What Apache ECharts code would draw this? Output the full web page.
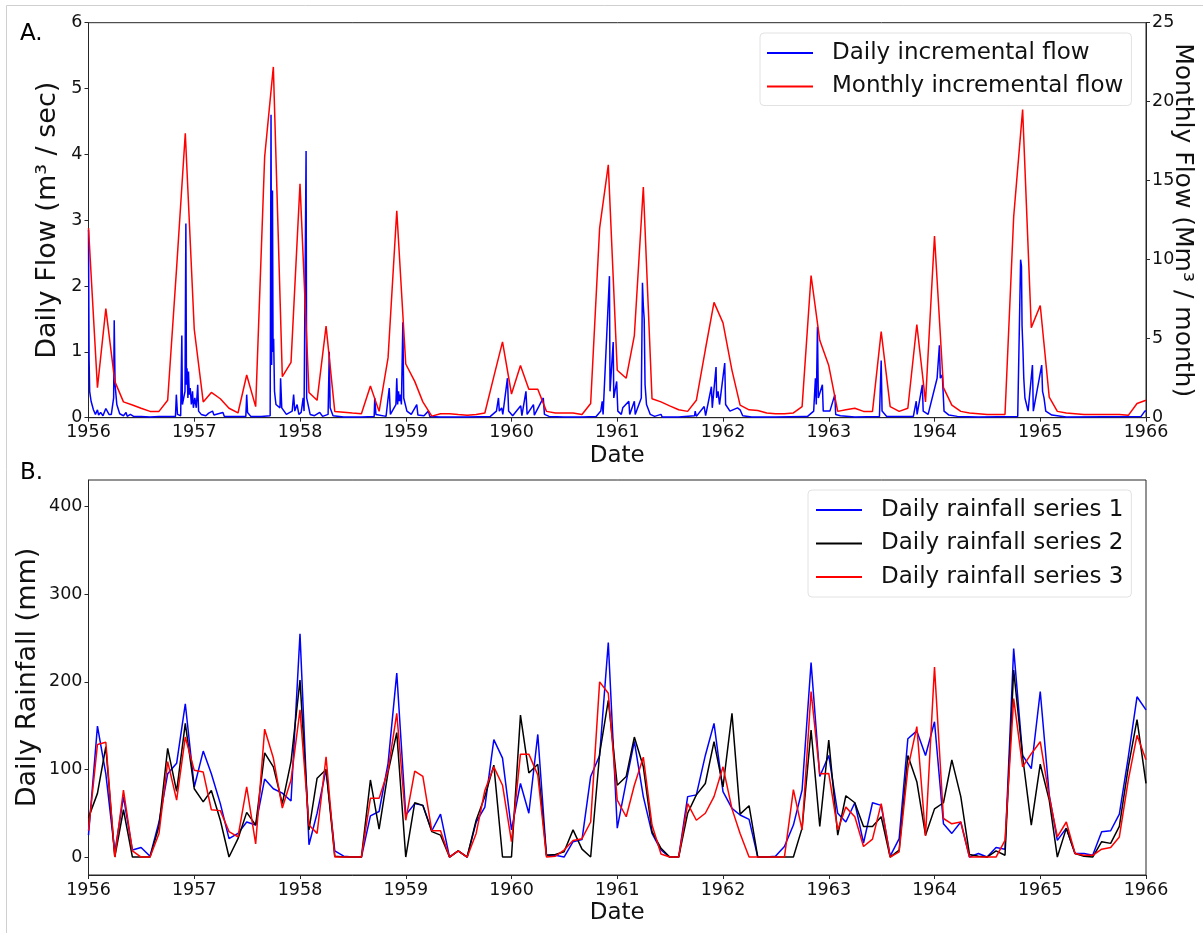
<!DOCTYPE html>
<html><head><meta charset="utf-8">
<script src="https://cdn.jsdelivr.net/npm/echarts@6/dist/echarts.min.js"></script>
<style>html,body{margin:0;padding:0;background:#fff}#c{width:1203px;height:933px}</style>
</head><body><div id="c"></div>
<script>
// ---------- tick labels ----------
const yearTicks = [1956,1957,1958,1959,1960,1961,1962,1963,1964,1965,1966];
const flowTicksLeft = [0,1,2,3,4,5,6];
const flowTicksRight = [0,5,10,15,20,25];
const rainTicks = [0,100,200,300,400];

// ---------- monthly categories (first of each month, Jan 1956 .. Jan 1966) ----------
const monthDates = [];
for (let m = 0; m <= 120; m++) { const d = new Date(1956, m, 1); monthDates.push(d.getFullYear() + '-' + String(d.getMonth() + 1).padStart(2, '0') + '-01'); }

// ---------- Panel A: monthly incremental flow (Mm3 / month) ----------
const monthlyFlow = [12.0,1.9,6.9,2.3,1.0,0.8,0.6,0.4,0.4,1.1,
9.5,18.0,5.6,1.0,1.6,1.2,0.6,0.3,2.7,0.7,
16.5,22.2,2.6,3.5,14.8,1.6,1.1,5.8,0.4,0.35,
0.3,0.25,2.0,0.4,3.8,13.1,3.4,2.3,1.0,0.1,
0.25,0.25,0.2,0.15,0.2,0.3,2.6,4.8,1.5,3.3,
1.8,1.8,0.4,0.3,0.3,0.3,0.2,0.9,12.0,16.0,
3.0,2.5,5.2,14.6,1.2,1.0,0.75,0.5,0.4,1.1,
4.3,7.3,6.0,3.0,0.8,0.5,0.45,0.3,0.25,0.25,
0.3,0.7,9.0,4.9,3.3,0.4,0.5,0.6,0.4,0.4,
5.45,0.7,0.4,0.6,5.9,1.0,11.5,1.9,0.8,0.4,
0.3,0.25,0.2,0.2,0.2,12.7,19.5,5.7,7.1,1.3,
0.4,0.3,0.25,0.2,0.2,0.2,0.2,0.2,0.15,0.9,
1.1];

// ---------- Panel A: daily incremental flow (m3 / sec), read points ----------
const dailyDates = [
'1956-01-01','1956-01-03','1956-01-05','1956-01-10','1956-01-18','1956-01-25','1956-02-01','1956-02-05','1956-02-12','1956-02-20',
'1956-03-01','1956-03-05','1956-03-12','1956-03-20','1956-03-28','1956-03-30','1956-04-02','1956-04-08','1956-04-18','1956-05-01',
'1956-05-10','1956-05-14','1956-05-25','1956-06-05','1956-07-01','1956-08-01','1956-09-01','1956-10-10','1956-10-28','1956-10-31',
'1956-11-04','1956-11-15','1956-11-19','1956-11-21','1956-11-30','1956-12-03','1956-12-05','1956-12-07','1956-12-10','1956-12-12',
'1956-12-15','1956-12-18','1956-12-22','1956-12-26','1956-12-29','1957-01-03','1957-01-08','1957-01-13','1957-01-16','1957-01-25',
'1957-02-10','1957-02-20','1957-03-05','1957-03-10','1957-03-25','1957-04-10','1957-04-15','1957-05-15','1957-06-28','1957-07-01',
'1957-07-04','1957-07-15','1957-08-20','1957-09-20','1957-09-23','1957-09-25','1957-09-28','1957-09-30','1957-10-02','1957-10-05',
'1957-10-10','1957-10-24','1957-10-26','1957-10-30','1957-11-15','1957-12-05','1957-12-10','1957-12-14','1957-12-22','1957-12-28',
'1958-01-05','1958-01-12','1958-01-15','1958-01-22','1958-01-24','1958-02-05','1958-02-20','1958-03-10','1958-03-20','1958-04-08',
'1958-04-12','1958-04-15','1958-04-25','1958-06-01','1958-08-01','1958-09-14','1958-09-16','1958-09-20','1958-10-25','1958-11-05',
'1958-11-09','1958-11-28','1958-12-01','1958-12-04','1958-12-07','1958-12-10','1958-12-13','1958-12-17','1958-12-22','1958-12-25',
'1959-01-05','1959-01-20','1959-02-08','1959-02-12','1959-03-05','1959-03-20','1959-03-25','1959-05-01','1959-08-01','1959-10-20',
'1959-11-10','1959-11-17','1959-11-20','1959-11-28','1959-12-02','1959-12-18','1959-12-22','1960-01-05','1960-02-02','1960-02-06',
'1960-02-20','1960-02-24','1960-03-17','1960-03-20','1960-04-20','1960-04-24','1960-05-10','1960-07-01','1960-09-01','1960-10-20',
'1960-11-05','1960-11-10','1960-11-13','1960-12-05','1960-12-07','1960-12-18','1960-12-20','1960-12-30','1961-01-03','1961-01-15',
'1961-01-20','1961-02-10','1961-02-13','1961-03-01','1961-03-04','1961-03-25','1961-03-29','1961-04-01','1961-04-04','1961-04-07',
'1961-04-12','1961-04-25','1961-05-10','1961-06-01','1961-06-05','1961-08-01','1961-09-25','1961-09-27','1961-10-01','1961-10-28',
'1961-11-02','1961-11-22','1961-11-25','1961-12-08','1961-12-10','1961-12-15','1961-12-20','1962-01-07','1962-01-10','1962-01-25',
'1962-02-20','1962-03-01','1962-03-10','1962-04-10','1962-07-01','1962-10-10','1962-10-15','1962-10-20','1962-11-10','1962-11-16',
'1962-11-19','1962-11-23','1962-11-26','1962-12-10','1962-12-13','1963-01-05','1963-01-22','1963-01-25','1963-02-10','1963-04-01',
'1963-06-25','1963-07-01','1963-07-04','1963-07-20','1963-10-20','1963-10-30','1963-11-02','1963-11-16','1963-11-20','1963-11-23',
'1963-12-10','1964-01-10','1964-01-18','1964-01-21','1964-01-28','1964-02-03','1964-02-20','1964-03-20','1964-06-01','1964-10-15',
'1964-10-25','1964-10-28','1964-10-30','1964-11-02','1964-11-05','1964-11-09','1964-11-20','1964-12-05','1964-12-08','1965-01-06',
'1965-01-09','1965-01-14','1965-01-20','1965-02-10','1965-04-01','1965-12-15','1965-12-28','1966-01-01'];
const dailyFlow = [
2.85,0.9,0.4,0.25,0.12,0.05,0.12,0.04,0.08,0.03,
0.14,0.15,0.05,0.05,0.3,1.48,0.5,0.2,0.06,0.03,
0.08,0.02,0.05,0.02,0.02,0.01,0.02,0.02,0.02,0.35,
0.05,0.03,1.25,0.2,0.4,2.95,0.5,0.75,0.3,0.7,
0.35,0.45,0.2,0.4,0.15,0.3,0.15,0.5,0.1,0.05,
0.03,0.07,0.1,0.04,0.06,0.08,0.02,0.02,0.02,0.35,
0.08,0.02,0.02,0.03,4.6,0.8,3.45,1.0,1.2,0.4,
0.2,0.15,0.6,0.15,0.05,0.1,0.35,0.1,0.2,0.05,
0.08,0.3,0.1,4.05,0.3,0.05,0.03,0.08,0.02,0.05,
1.0,0.15,0.03,0.01,0.01,0.02,0.3,0.05,0.02,0.45,
0.05,0.2,0.6,0.2,0.4,0.25,0.35,0.2,1.45,0.3,
0.1,0.05,0.2,0.04,0.03,0.1,0.02,0.01,0.01,0.02,
0.1,0.3,0.1,0.15,0.05,0.6,0.1,0.03,0.18,0.03,
0.4,0.05,0.2,0.04,0.3,0.05,0.02,0.01,0.01,0.02,
0.1,0.25,0.05,2.15,0.4,1.15,0.3,0.55,0.1,0.05,
0.15,0.25,0.05,0.25,0.05,0.3,2.05,1.7,1.5,0.5,
0.2,0.05,0.02,0.05,0.01,0.01,0.03,0.1,0.02,0.17,
0.03,0.47,0.15,0.77,0.3,0.4,0.2,0.83,0.2,0.1,
0.15,0.12,0.03,0.01,0.01,0.02,0.05,0.02,0.1,0.6,
0.2,1.38,0.3,0.5,0.1,0.1,0.35,0.05,0.03,0.01,
0.02,0.87,0.1,0.02,0.02,0.25,0.05,0.4,0.5,0.1,
0.05,0.6,1.1,0.6,0.65,0.1,0.04,0.02,0.01,0.02,
2.4,2.3,1.4,1.05,0.6,0.3,0.1,0.8,0.1,0.8,
0.4,0.3,0.1,0.04,0.01,0.02,0.1,0.1];

// ---------- Panel B: rainfall series (mm) ----------
const rain1 = [25,149.5,95,5,69,8,11,1,40,95,
107,175,80,121,95,61,21,27,40,36.5,
89,78,73,64,255,14,50,100,7,1,
0,0,47,52,107,210,48,61,59,30,
49,0,7,0,40,57,134,113,31,84,
50,140,2,2,0,17.5,20,92,116,245,
33,86,132,69,27,8,0,0,69,71,
116,152.6,74.6,55.6,48,43,0,0,1,12,
36.5,76.5,222,92,116,50,40,62,16,62,
59,1,21,135,144,116,154.5,38,27,40,
0,4,0,11,9,238,116,101,189,71,
19,33,4,4,2,29,30,49,114.5,183,
168];
const rain2 = [45,72.7,126,0,54,0,0,0,35,124,
75,152.6,78,63,76,42,0,21,51,36.5,
119,103,61,109,202,31,90,100,1,0,
0,0,88,32,97,142,0,62,59,29,
25,0,7,0,42,69,105,0,0,162,
96,106,2,3,6,31,9,0,118,179,
82,92,137,103,29,10,0,0,50,71,
84,131.7,80,164,49,58.6,0,0,0,0,
0,33,145,35,133.6,25,70,62,35,35,
46,0,8,116,86,25,55,62,111,69,
3,1,0,7,2,213.5,114.5,36.5,106,65,
0,33,4,1,0,17.5,15.6,35,103,157,
84];
const rain3 = [30,128.6,131,0,76.5,7,0,0,27,109,
65,137,99,97,54,53,29,23,80,15,
146,113,56,88,168,36.5,27,114.5,0,0,
0,0,67,67,99,164,42,98,92,30,
30,0,7,0,27,76,103,82,17.5,117.5,
117.5,93.6,0,1,8,19,21,40,200,187,
65,46,82,114,36.5,3.4,0,0,61,42,
50,69,103,55,27,0,0,0,0,0,
77,31,189,95,95.5,31,57,46,12,20.5,
61,0,6,101,149,24,217,44,38,40,
0,0,0,0,19,181,103,118,131.7,69,
23,40,4,2,2,9,11,23,88,139,
111];

// ---------- helpers ----------
// position of a calendar date on the year axis (year + fraction of that year elapsed)
function yearPos(s) {
  const p = s.split('-').map(Number);
  const t = Date.UTC(p[0], p[1] - 1, p[2]);
  const a = Date.UTC(p[0], 0, 1), b = Date.UTC(p[0] + 1, 0, 1);
  return p[0] + (t - a) / (b - a);
}

const FONT = 'DejaVu Sans';
const AX = '#262626';
const TXT = '#111';

function xAxisFor(gi) {
  return {
    type: 'value', gridIndex: gi, min: yearTicks[0], max: yearTicks[yearTicks.length - 1], interval: 1,
    axisLine: { show: true, onZero: false, lineStyle: { color: AX, width: 1 } },
    axisTick: { show: true, inside: false, length: 4, lineStyle: { color: AX, width: 1 } },
    axisLabel: { show: true, formatter: v => String(v), fontSize: 17.5, color: TXT, fontFamily: FONT,
      margin: 6, showMinLabel: true, showMaxLabel: true, hideOverlap: false },
    splitLine: { show: false },
    name: 'Date', nameLocation: 'middle', nameGap: 27, nameMoveOverlap: false,
    nameTextStyle: { fontSize: 23, color: TXT, fontFamily: FONT }
  };
}
function yAxisFor(gi, pos, min, max, ticks, name, nameRotate, nameGap, nameSize) {
  const ax = {
    type: 'value', gridIndex: gi, position: pos, min: min, max: max,
    axisLine: { show: true, onZero: false, lineStyle: { color: AX, width: 1 } },
    axisTick: { show: true, inside: false, length: 4, lineStyle: { color: AX, width: 1 } },
    axisLabel: { show: true, fontSize: 17.5, color: TXT, fontFamily: FONT, margin: 6,
      showMinLabel: true, showMaxLabel: true },
    splitLine: { show: false },
    name: name, nameLocation: 'middle', nameRotate: nameRotate, nameGap: nameGap, nameMoveOverlap: false,
    nameTextStyle: { fontSize: nameSize, color: TXT, fontFamily: FONT }
  };
  if (min === ticks[0]) {
    ax.interval = ticks[1] - ticks[0];
  } else {
    ax.axisTick.customValues = ticks;
    ax.axisLabel.customValues = ticks;
  }
  return ax;
}
const legendCommon = {
  orient: 'vertical', icon: 'rect', itemWidth: 46, itemHeight: 2, itemGap: 5.5,
  backgroundColor: 'rgba(255,255,255,0.85)', borderColor: '#e2e2e2', borderWidth: 1, borderRadius: 4,
  textStyle: { fontSize: 23, color: TXT, fontFamily: FONT, lineHeight: 28, padding: [0, 0, 0, 14] }
};
function lineSeries(name, data, color, xi, yi) {
  return { type: 'line', name: name, data: data, xAxisIndex: xi, yAxisIndex: yi,
    showSymbol: false, symbol: 'none', lineStyle: { color: color, width: 1.5 }, itemStyle: { color: color },
    clip: true, emphasis: { disabled: true }, silent: true };
}

const option = {
  animation: false,
  backgroundColor: '#fff',
  textStyle: { fontFamily: FONT },
  grid: [
    { left: 88.5, top: 22.7, width: 1057.5, height: 395, show: true, borderColor: AX, borderWidth: 1, backgroundColor: 'transparent' },
    { left: 88.5, top: 480, width: 1057.5, height: 395, show: true, borderColor: AX, borderWidth: 1, backgroundColor: 'transparent' }
  ],
  xAxis: [xAxisFor(0), xAxisFor(1)],
  yAxis: [
    yAxisFor(0, 'left', 0, 6, flowTicksLeft, 'Daily Flow (m\u00b3 / sec)', 90, 27, 27),
    yAxisFor(0, 'right', 0, 25, flowTicksRight, 'Monthly Flow (Mm\u00b3 / month)', -90, 24, 25),
    yAxisFor(1, 'left', -20.5, 430.5, rainTicks, 'Daily Rainfall (mm)', 90, 47, 27)
  ],
  legend: [
    Object.assign({}, legendCommon, { left: 760, top: 33, padding: [6, 8, 5, 7],
      data: ['Daily incremental flow', 'Monthly incremental flow'] }),
    Object.assign({}, legendCommon, { left: 808, top: 490, padding: [6, 8, 6, 8],
      data: ['Daily rainfall series 1', 'Daily rainfall series 2', 'Daily rainfall series 3'] })
  ],
  series: [
    lineSeries('Daily incremental flow', dailyDates.map((d, i) => [yearPos(d), dailyFlow[i]]), '#0000ff', 0, 0),
    lineSeries('Monthly incremental flow', monthDates.map((d, i) => [yearPos(d), monthlyFlow[i]]), '#ff0000', 0, 1),
    lineSeries('Daily rainfall series 1', monthDates.map((d, i) => [yearPos(d), rain1[i]]), '#0000ff', 1, 2),
    lineSeries('Daily rainfall series 2', monthDates.map((d, i) => [yearPos(d), rain2[i]]), '#000000', 1, 2),
    lineSeries('Daily rainfall series 3', monthDates.map((d, i) => [yearPos(d), rain3[i]]), '#ff0000', 1, 2)
  ],
  graphic: [
    { type: 'line', shape: { x1: 6.5, y1: 5.5, x2: 1203, y2: 5.5 }, style: { stroke: '#cfcfcf', lineWidth: 1 }, silent: true },
    { type: 'line', shape: { x1: 6.5, y1: 5.5, x2: 6.5, y2: 933 }, style: { stroke: '#cfcfcf', lineWidth: 1 }, silent: true },
    { type: 'text', left: 20, top: 23, style: { text: 'A.', fontSize: 23, fontFamily: FONT, fill: '#000' }, silent: true },
    { type: 'text', left: 20, top: 462, style: { text: 'B.', fontSize: 23, fontFamily: FONT, fill: '#000' }, silent: true }
  ]
};
const chart = echarts.init(document.getElementById('c'), null, { renderer: 'canvas' });
chart.setOption(option);
</script></body></html>
